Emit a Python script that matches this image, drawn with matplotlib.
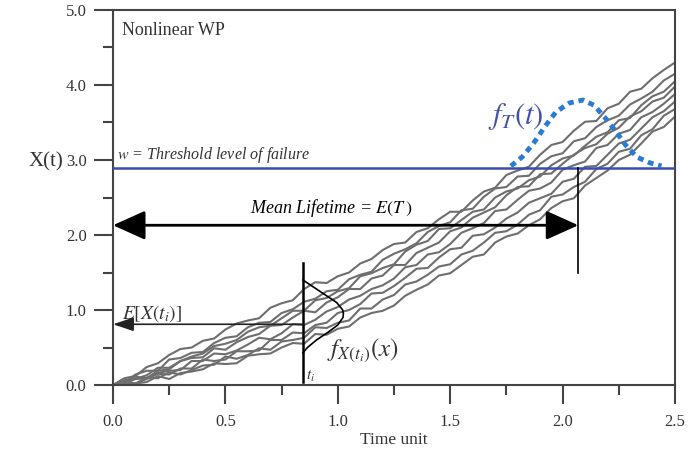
import numpy as np
import matplotlib
matplotlib.use("Agg")
import matplotlib.pyplot as plt
from matplotlib.ticker import MultipleLocator

plt.rcParams['font.family'] = ['Liberation Serif', 'DejaVu Serif']
plt.rcParams['mathtext.fontset'] = 'stix'

# time grid of the sample paths
t = np.arange(51) * 0.05

# simulated wiener process sample paths
wp_1 = [0.00, 0.09, 0.12, 0.24, 0.29, 0.40, 0.48, 0.50, 0.59, 0.62, 0.74, 0.82, 0.86, 0.89, 1.03, 1.09, 1.13,
        1.28, 1.37, 1.36, 1.45, 1.50, 1.62, 1.68, 1.80, 1.88, 1.90, 2.04, 2.09, 2.21, 2.31, 2.31, 2.46, 2.58,
        2.63, 2.80, 2.86, 2.91, 3.07, 3.20, 3.24, 3.39, 3.51, 3.52, 3.69, 3.75, 3.91, 3.95, 4.09, 4.20, 4.30]
wp_2 = [0.00, 0.03, 0.14, 0.19, 0.19, 0.34, 0.36, 0.43, 0.44, 0.56, 0.63, 0.65, 0.77, 0.83, 0.84, 0.96, 1.01,
        1.11, 1.15, 1.25, 1.27, 1.41, 1.47, 1.51, 1.67, 1.75, 1.81, 1.89, 2.04, 2.12, 2.17, 2.33, 2.35, 2.51,
        2.62, 2.64, 2.78, 2.79, 2.95, 3.05, 3.09, 3.25, 3.29, 3.44, 3.53, 3.59, 3.74, 3.82, 3.91, 4.06, 4.15]
wp_3 = [0.00, 0.06, 0.08, 0.13, 0.23, 0.23, 0.32, 0.38, 0.42, 0.52, 0.55, 0.60, 0.71, 0.77, 0.79, 0.89, 0.99,
        0.99, 1.13, 1.16, 1.25, 1.29, 1.45, 1.49, 1.56, 1.61, 1.78, 1.87, 1.92, 2.08, 2.09, 2.20, 2.31, 2.34,
        2.50, 2.58, 2.62, 2.73, 2.78, 2.93, 3.02, 3.06, 3.19, 3.31, 3.37, 3.53, 3.56, 3.73, 3.85, 3.91, 4.05]
wp_4 = [0.00, 0.06, 0.11, 0.09, 0.19, 0.21, 0.32, 0.36, 0.37, 0.49, 0.47, 0.57, 0.64, 0.68, 0.79, 0.80, 0.90,
        0.99, 0.97, 1.10, 1.17, 1.28, 1.28, 1.42, 1.46, 1.60, 1.60, 1.76, 1.83, 1.90, 2.05, 2.10, 2.23, 2.30,
        2.37, 2.53, 2.64, 2.65, 2.81, 2.82, 2.95, 3.07, 3.16, 3.21, 3.35, 3.43, 3.58, 3.65, 3.78, 3.83, 3.98]
wp_5 = [0.00, 0.02, 0.08, 0.09, 0.16, 0.19, 0.20, 0.32, 0.32, 0.42, 0.41, 0.46, 0.54, 0.63, 0.61, 0.69, 0.81,
        0.80, 0.87, 0.98, 1.04, 1.14, 1.19, 1.28, 1.33, 1.42, 1.57, 1.60, 1.74, 1.77, 1.88, 2.03, 2.09, 2.16,
        2.32, 2.34, 2.47, 2.59, 2.62, 2.70, 2.87, 2.93, 2.98, 3.16, 3.20, 3.35, 3.40, 3.57, 3.64, 3.75, 3.88]
wp_6 = [0.00, 0.05, 0.02, 0.08, 0.15, 0.14, 0.22, 0.22, 0.34, 0.32, 0.34, 0.45, 0.45, 0.46, 0.60, 0.60, 0.70,
        0.69, 0.80, 0.83, 0.96, 1.00, 1.08, 1.22, 1.23, 1.32, 1.43, 1.55, 1.56, 1.70, 1.81, 1.83, 1.99, 2.01,
        2.10, 2.22, 2.30, 2.43, 2.49, 2.55, 2.71, 2.75, 2.91, 2.92, 3.07, 3.22, 3.27, 3.42, 3.57, 3.65, 3.78]
wp_7 = [0.00, 0.01, 0.02, 0.10, 0.09, 0.17, 0.14, 0.20, 0.26, 0.27, 0.38, 0.35, 0.40, 0.49, 0.47, 0.58, 0.60,
        0.63, 0.77, 0.76, 0.83, 0.86, 1.02, 1.02, 1.14, 1.20, 1.34, 1.38, 1.47, 1.58, 1.61, 1.74, 1.79, 1.90,
        2.03, 2.05, 2.14, 2.27, 2.33, 2.51, 2.54, 2.64, 2.71, 2.88, 2.95, 3.11, 3.15, 3.33, 3.41, 3.59, 3.68]
wp_8 = [0.00, 0.05, 0.02, 0.04, 0.12, 0.08, 0.16, 0.18, 0.21, 0.29, 0.28, 0.29, 0.39, 0.41, 0.42, 0.50, 0.56,
        0.55, 0.68, 0.67, 0.75, 0.78, 0.90, 0.96, 0.99, 1.06, 1.19, 1.27, 1.34, 1.46, 1.49, 1.60, 1.71, 1.74,
        1.90, 1.98, 2.02, 2.13, 2.21, 2.36, 2.45, 2.49, 2.66, 2.76, 2.86, 3.00, 3.07, 3.22, 3.38, 3.44, 3.58]

threshold = 2.9
mean_life = 2.07
t_i = 0.845
mean_x_ti = 0.81

# first passage time density f_T(t) (dashed blue hump)
ft_t = [1.77, 1.82, 1.87, 1.92, 1.97, 2.03, 2.09, 2.14, 2.19, 2.24, 2.28, 2.33, 2.39, 2.44]
ft_y = [2.92, 3.04, 3.22, 3.44, 3.64, 3.76, 3.80, 3.73, 3.56, 3.37, 3.20, 3.04, 2.96, 2.92]

# density of X(t_i) drawn sideways on the t_i line
fx_y = [0.43, 0.50, 0.60, 0.70, 0.80, 0.90, 0.95, 1.00, 1.10, 1.20, 1.30, 1.40]
fx_dt = [0.0, 0.02, 0.06, 0.11, 0.155, 0.178, 0.18, 0.177, 0.15, 0.10, 0.05, 0.0]

fig = plt.figure(figsize=(6.88, 4.5), dpi=100)
ax = fig.add_axes([0.1642, 0.1444, 0.8169, 0.8334])

for path in [wp_1, wp_2, wp_3, wp_4, wp_5, wp_6, wp_7, wp_8]:
    ax.plot(t, path, color='#6e6e6e', linewidth=1.5, zorder=2)

ax.axhline(threshold, color='#3b4cb0', linewidth=1.8, zorder=3)
ax.text(0.02, threshold + 0.04, r'$w$ = Threshold level of failure', fontsize=11.5,
        style='italic', color='#333333', va='bottom')

ax.plot(ft_t, ft_y, color='#2c7bd2', linewidth=3.5, linestyle=(0, (1.2, 1.0)), zorder=4)
ax.text(1.79, 3.58, r'$f_T(t)$', fontsize=22, color='#4352a6', ha='center', va='center')

# mean lifetime arrow
ax.annotate('', xy=(0, 2.13), xytext=(mean_life, 2.13),
            arrowprops=dict(arrowstyle='<|-|>,head_length=1.0,head_width=0.45', color='black', lw=2,
                            mutation_scale=20, shrinkA=0, shrinkB=0), zorder=5)
ax.plot([mean_life, mean_life], [threshold, 1.49], color='black', linewidth=1.2, zorder=5)
ax.text(0.97, 2.36, 'Mean Lifetime = $E(T\\,)$', fontsize=13, style='italic', ha='center', va='center')

# t_i slice
ax.plot([t_i, t_i], [0.04, 1.63], color='black', linewidth=1.8, zorder=5)
ax.plot([t_i + d for d in fx_dt], fx_y, color='black', linewidth=1.2, zorder=5)
ax.annotate('', xy=(0, mean_x_ti), xytext=(t_i, mean_x_ti),
            arrowprops=dict(arrowstyle='-|>,head_length=0.9,head_width=0.3', color='#222222', lw=1.2,
                            mutation_scale=14, shrinkA=0, shrinkB=0), zorder=5)
ax.text(0.04, 0.95, r'$E[X(t_i)]$', fontsize=14, color='#333333', va='center')
ax.text(0.86, 0.02, r'$t_i$', fontsize=11, color='#333333', va='bottom')
ax.text(0.95, 0.46, r'$f_{X(t_i)}(x)$', fontsize=18, color='#333333', va='center')

ax.text(0.04, 4.72, 'Nonlinear WP', fontsize=13, color='#333333', va='center')

ax.set_xlim(0, 2.5)
ax.set_ylim(0, 5.0)
ax.xaxis.set_major_locator(MultipleLocator(0.5))
ax.xaxis.set_minor_locator(MultipleLocator(0.25))
ax.yaxis.set_major_locator(MultipleLocator(1.0))
ax.yaxis.set_minor_locator(MultipleLocator(0.5))
ax.xaxis.set_major_formatter(plt.FormatStrFormatter('%.1f'))
ax.yaxis.set_major_formatter(plt.FormatStrFormatter('%.1f'))
ax.tick_params(which='major', direction='out', length=14, width=1.5, color='#444444',
               labelsize=12, labelcolor='#333333', pad=5)
ax.tick_params(which='minor', direction='out', length=7, width=1.5, color='#444444')
ax.tick_params(axis='x', which='major', pad=7)
for s in ax.spines.values():
    s.set_color('#444444')
    s.set_linewidth(1.5)

ax.set_ylabel('X(t)', fontsize=15, rotation=0, color='#333333')
ax.yaxis.set_label_coords(-0.12, 0.57)
ax.set_xlabel('Time unit', fontsize=12.5, color='#333333')
ax.xaxis.set_label_coords(0.5, -0.125)

fig.savefig('out.png', dpi=100)
